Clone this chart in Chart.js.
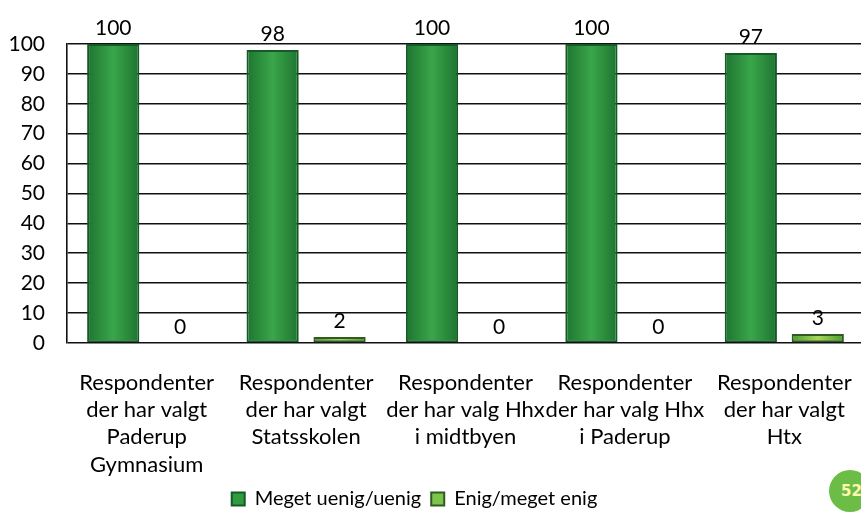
<!DOCTYPE html>
<html lang="da">
<head>
    <meta charset="UTF-8">
    <title>Respondenter</title>
    <script src="https://cdn.jsdelivr.net/npm/chart.js"></script>
    <style>
        html, body { margin: 0; padding: 0; background: #fff; overflow: hidden; width: 861px; height: 520px; }
        #wrap { position: absolute; left: -38px; top: 0; width: 908px; height: 520px; }
        #badge { position: absolute; left: 829px; top: 470px; width: 42px; height: 42px; border-radius: 50%;
                 background: #6cbd45; color: #fff7b0; font: bold 15px "DejaVu Sans", sans-serif;
                 line-height: 42px; text-indent: 12px; }
    </style>
</head>
<body>
    <div id="wrap"><canvas id="chart" width="908" height="520"></canvas></div>
    <div id="badge">52</div>

    <script>
        const categories = [
            ['Respondenter', 'der har valgt', 'Paderup', 'Gymnasium'],
            ['Respondenter', 'der har valgt', 'Statsskolen'],
            ['Respondenter', 'der har valg Hhx', 'i midtbyen'],
            ['Respondenter', 'der har valg Hhx', 'i Paderup'],
            ['Respondenter', 'der har valgt', 'Htx']
        ];
        const uenig = [100, 98, 100, 100, 97];
        const enig = [0, 2, 0, 0, 3];
        const yTicks = [0, 10, 20, 30, 40, 50, 60, 70, 80, 90, 100];

        const FONT = 'Lato';

        // horizontal shading on each bar, like the original
        const shadePlugin = {
            id: 'shade',
            beforeDatasetsDraw(chart) {
                const ctx = chart.ctx;
                const stops = [
                    ['#1d7430', '#3aa64a', '#1d7430'],
                    ['#4f9a2e', '#a6d85a', '#4f9a2e']
                ];
                chart.data.datasets.forEach((ds, di) => {
                    chart.getDatasetMeta(di).data.forEach(el => {
                        const g = ctx.createLinearGradient(el.x - el.width / 2, 0, el.x + el.width / 2, 0);
                        g.addColorStop(0, stops[di][0]);
                        g.addColorStop(0.5, stops[di][1]);
                        g.addColorStop(1, stops[di][2]);
                        el.options = Object.assign({}, el.options, { backgroundColor: g });
                    });
                });
            }
        };

        const valueLabels = {
            id: 'valueLabels',
            afterDatasetsDraw(chart) {
                const ctx = chart.ctx;
                ctx.save();
                ctx.font = '21px ' + FONT;
                ctx.fillStyle = '#000';
                ctx.textAlign = 'center';
                ctx.textBaseline = 'middle';
                chart.data.datasets.forEach((ds, di) => {
                    chart.getDatasetMeta(di).data.forEach((el, i) => {
                        ctx.fillText(ds.data[i], el.x, el.y - 16);
                    });
                });
                ctx.restore();
            }
        };

        new Chart(document.getElementById('chart'), {
            type: 'bar',
            data: {
                labels: categories,
                datasets: [
                    {
                        label: 'Meget uenig/uenig',
                        data: uenig,
                        backgroundColor: '#2f9a3e',
                        borderColor: '#155a26',
                        borderWidth: 2,
                        borderSkipped: false,
                        categoryPercentage: 0.84,
                        barPercentage: 0.78
                    },
                    {
                        label: 'Enig/meget enig',
                        data: enig,
                        backgroundColor: '#7cc44a',
                        borderColor: '#2f5a22',
                        borderWidth: 2,
                        borderSkipped: false,
                        categoryPercentage: 0.84,
                        barPercentage: 0.78
                    }
                ]
            },
            options: {
                responsive: false,
                animation: false,
                layout: { padding: { top: 44, right: 3, bottom: 1, left: 0 } },
                plugins: {
                    legend: {
                        position: 'bottom',
                        labels: {
                            boxWidth: 13,
                            boxHeight: 13,
                            padding: 10,
                            color: '#000',
                            font: { family: FONT, size: 20 }
                        }
                    },
                    tooltip: { enabled: false }
                },
                scales: {
                    x: {
                        afterFit: s => { s.height = 136; },
                        grid: { display: false },
                        border: { display: false },
                        ticks: {
                            color: '#000',
                            padding: 18,
                            maxRotation: 0,
                            autoSkip: false,
                            font: { family: FONT, size: 22, lineHeight: 1.24 }
                        }
                    },
                    y: {
                        min: 0,
                        max: 100,
                        afterFit: s => { s.width = 105; },
                        afterBuildTicks: s => { s.ticks = yTicks.map(v => ({ value: v })); },
                        grid: { color: '#111', lineWidth: 1.6, drawTicks: false },
                        border: { display: true, color: '#111', width: 1.6 },
                        ticks: {
                            color: '#000',
                            padding: 22,
                            font: { family: FONT, size: 21 }
                        }
                    }
                }
            },
            plugins: [shadePlugin, valueLabels]
        });
    </script>
</body>
</html>
